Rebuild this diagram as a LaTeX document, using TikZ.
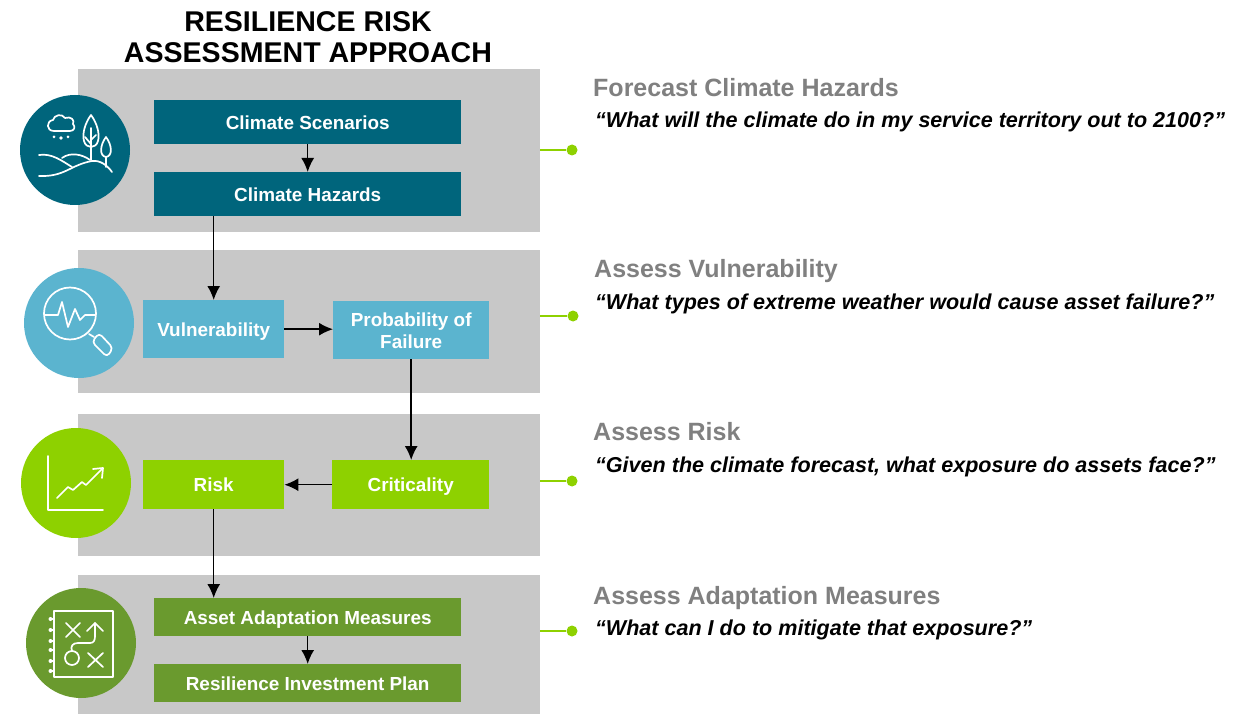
\documentclass[tikz,border=0pt]{standalone}
\usepackage{fontspec}
\setmainfont{Liberation Sans}
\usetikzlibrary{arrows.meta}
\definecolor{cteal}{HTML}{00657C}
\definecolor{csky}{HTML}{5BB4CF}
\definecolor{clime}{HTML}{8ED100}
\definecolor{colive}{HTML}{6A9A2E}
\definecolor{cband}{HTML}{C8C8C8}
\definecolor{chead}{HTML}{808080}
\tikzset{
 x=1pt,y=-1pt,
 band/.style={fill=cband,draw=none},
 stepbox/.style={draw=none,text=white,font=\bfseries\fontsize{18.9}{22}\selectfont,align=center,anchor=north west,inner sep=0pt,text depth=0pt},
 disc/.style={circle,draw=none,minimum size=110pt,inner sep=0pt},
 flow/.style={-{Latex[length=14pt,width=13pt]},line width=1.5pt,black},
 lead/.style={line width=1.6pt,clime},
 dot/.style={circle,fill=clime,draw=none,minimum size=11pt,inner sep=0pt},
 hd/.style={anchor=west,inner sep=0pt,text=chead,text depth=0pt,font=\bfseries\fontsize{25}{29}\selectfont},
 qt/.style={anchor=west,inner sep=0pt,text=black,text depth=0pt,font=\bfseries\itshape\fontsize{21.55}{26}\selectfont},
 ic/.style={draw=white,line width=1.7pt,line cap=round,line join=round,fill=none},
}
\begin{document}
\begin{tikzpicture}
\useasboundingbox (0,0) rectangle (1253,714);
% bands
\fill[band] (78,69) rectangle (540,232);
\fill[band] (78,250) rectangle (540,393);
\fill[band] (78,414) rectangle (540,556);
\fill[band] (78,575) rectangle (540,714);
\coordinate (e1) at (540,150);
\coordinate (e2) at (540,316);
\coordinate (e3) at (540,481);
\coordinate (e4) at (540,631);
% title
\node[inner sep=0pt,align=center,font=\bfseries\fontsize{28.55}{31}\selectfont] (title) at (308,37) {RESILIENCE RISK\\ASSESSMENT APPROACH};
% boxes
\node[stepbox,fill=cteal,minimum width=307pt,minimum height=44pt] (cs) at (154,100) {Climate Scenarios};
\node[stepbox,fill=cteal,minimum width=307pt,minimum height=44pt] (ch) at (154,172) {Climate Hazards};
\node[stepbox,fill=csky,minimum width=141pt,minimum height=58pt] (vu) at (143,300) {Vulnerability};
\node[stepbox,fill=csky,minimum width=156pt,minimum height=58pt] (pf) at (333,301) {Probability of\\Failure};
\node[stepbox,fill=clime,minimum width=141pt,minimum height=49pt] (ri) at (143,460) {Risk};
\node[stepbox,fill=clime,minimum width=157pt,minimum height=49pt] (cr) at (332,460) {Criticality};
\node[stepbox,fill=colive,minimum width=307pt,minimum height=38pt] (aa) at (154,598) {Asset Adaptation Measures};
\node[stepbox,fill=colive,minimum width=307pt,minimum height=38pt] (rp) at (154,664) {Resilience Investment Plan};
% arrows
\draw[flow] (cs.south) -- (ch.north);
\draw[flow] (vu.north |- ch.south) -- (vu.north);
\draw[flow] (vu.east) -- (pf.west |- vu.east);
\draw[flow] (pf.south) -- (pf.south |- cr.north);
\draw[flow] (cr.west) -- (ri.east);
\draw[flow] (ri.south) -- (ri.south |- aa.north);
\draw[flow] (aa.south) -- (rp.north);
% discs
\node[disc,fill=cteal] (d1) at (75,150) {};
\node[disc,fill=csky] (d2) at (79,323) {};
\node[disc,fill=clime] (d3) at (76,483) {};
\node[disc,fill=colive] (d4) at (81,643) {};
% icon 1
\begin{scope}[ic]
\draw (54,131) .. controls (46,131) and (46,121) .. (53,120) .. controls (54,115) and (62,113) .. (65,118) .. controls (71,116) and (75,120) .. (73,124) .. controls (76,127) and (74,131) .. (70,131) -- cycle;
\fill[white] (54,137) circle (1.5) (61,138) circle (1.9) (68,137) circle (1.5);
\draw (91,115) .. controls (85,123) and (82,134) .. (84,141) .. controls (86,149) and (96,149) .. (98,141) .. controls (100,134) and (97,123) .. (91,115) -- cycle;
\draw (91,128) -- (91,160) (91,144) -- (85,137) (91,140) -- (96,135);
\draw (106,137) .. controls (100,145) and (99,156) .. (106,157) .. controls (113,156) and (112,145) .. (106,137) -- cycle;
\draw (106,157) -- (106,167);
\draw (39,155) .. controls (52,153) and (62,161) .. (72,167);
\draw (62,158) .. controls (70,152) and (82,154) .. (90,160);
\draw (39,176) .. controls (65,177) and (70,165) .. (92,161) .. controls (100,160) and (107,165) .. (112,172);
\end{scope}
% icon 2
\begin{scope}[ic]
\draw (70,313.5) circle (26);
\draw (45,315) -- (58,315) -- (62,302) -- (68,327) -- (75,309) -- (80,320) -- (85,315) -- (95,315);
\draw (89,334) -- (94,337);
\draw[rounded corners=4pt] (99,333) -- (113,348) -- (107,357) -- (92,342) -- cycle;
\end{scope}
% icon 3
\begin{scope}[ic]
\draw (48,456) -- (48,510) -- (103,510);
\draw (57,498) -- (68,487) -- (73,490) -- (82,482) -- (86,485) -- (102,469);
\draw (93,469) -- (103,468) -- (102,478);
\end{scope}
% icon 4
\begin{scope}[ic]
\draw (54,611) rectangle (113,677);
\foreach \yy in {619,630,641,650,661,671} \fill[white] (50.5,\yy) circle (2);
\foreach \yy in {619,630,641,650,661,671} \draw (50.5,\yy) -- (54,\yy);
\draw (66,623) -- (80,637) (80,623) -- (66,637);
\draw (72,658) circle (7);
\draw (88,653) -- (103,667) (103,653) -- (88,667);
\draw (72,651) .. controls (70,646) and (73,643) .. (78,643) -- (90,643) .. controls (94,643) and (95,640) .. (95,636) -- (95,623);
\draw (87,631) -- (95,623) -- (103,631);
\end{scope}
% leads
\node[dot] (p1) at (572,150) {};
\node[dot] (p2) at (573,316) {};
\node[dot] (p3) at (572,481) {};
\node[dot] (p4) at (572,631) {};
\draw[lead] (e1) -- (p1);
\draw[lead] (e2) -- (p2);
\draw[lead] (e3) -- (p3);
\draw[lead] (e4) -- (p4);
% right text
\node[hd] (h1) at (593,87) {Forecast Climate Hazards};
\node[qt] (q1) at (595,120) {“What will the climate do in my service territory out to 2100?”};
\node[hd] (h2) at (594,268) {Assess Vulnerability};
\node[qt] (q2) at (595,302) {“What types of extreme weather would cause asset failure?”};
\node[hd] (h3) at (593,431) {Assess Risk};
\node[qt] (q3) at (595,465) {“Given the climate forecast, what exposure do assets face?”};
\node[hd] (h4) at (593,595) {Assess Adaptation Measures};
\node[qt] (q4) at (595,628) {“What can I do to mitigate that exposure?”};
\end{tikzpicture}
\end{document}
